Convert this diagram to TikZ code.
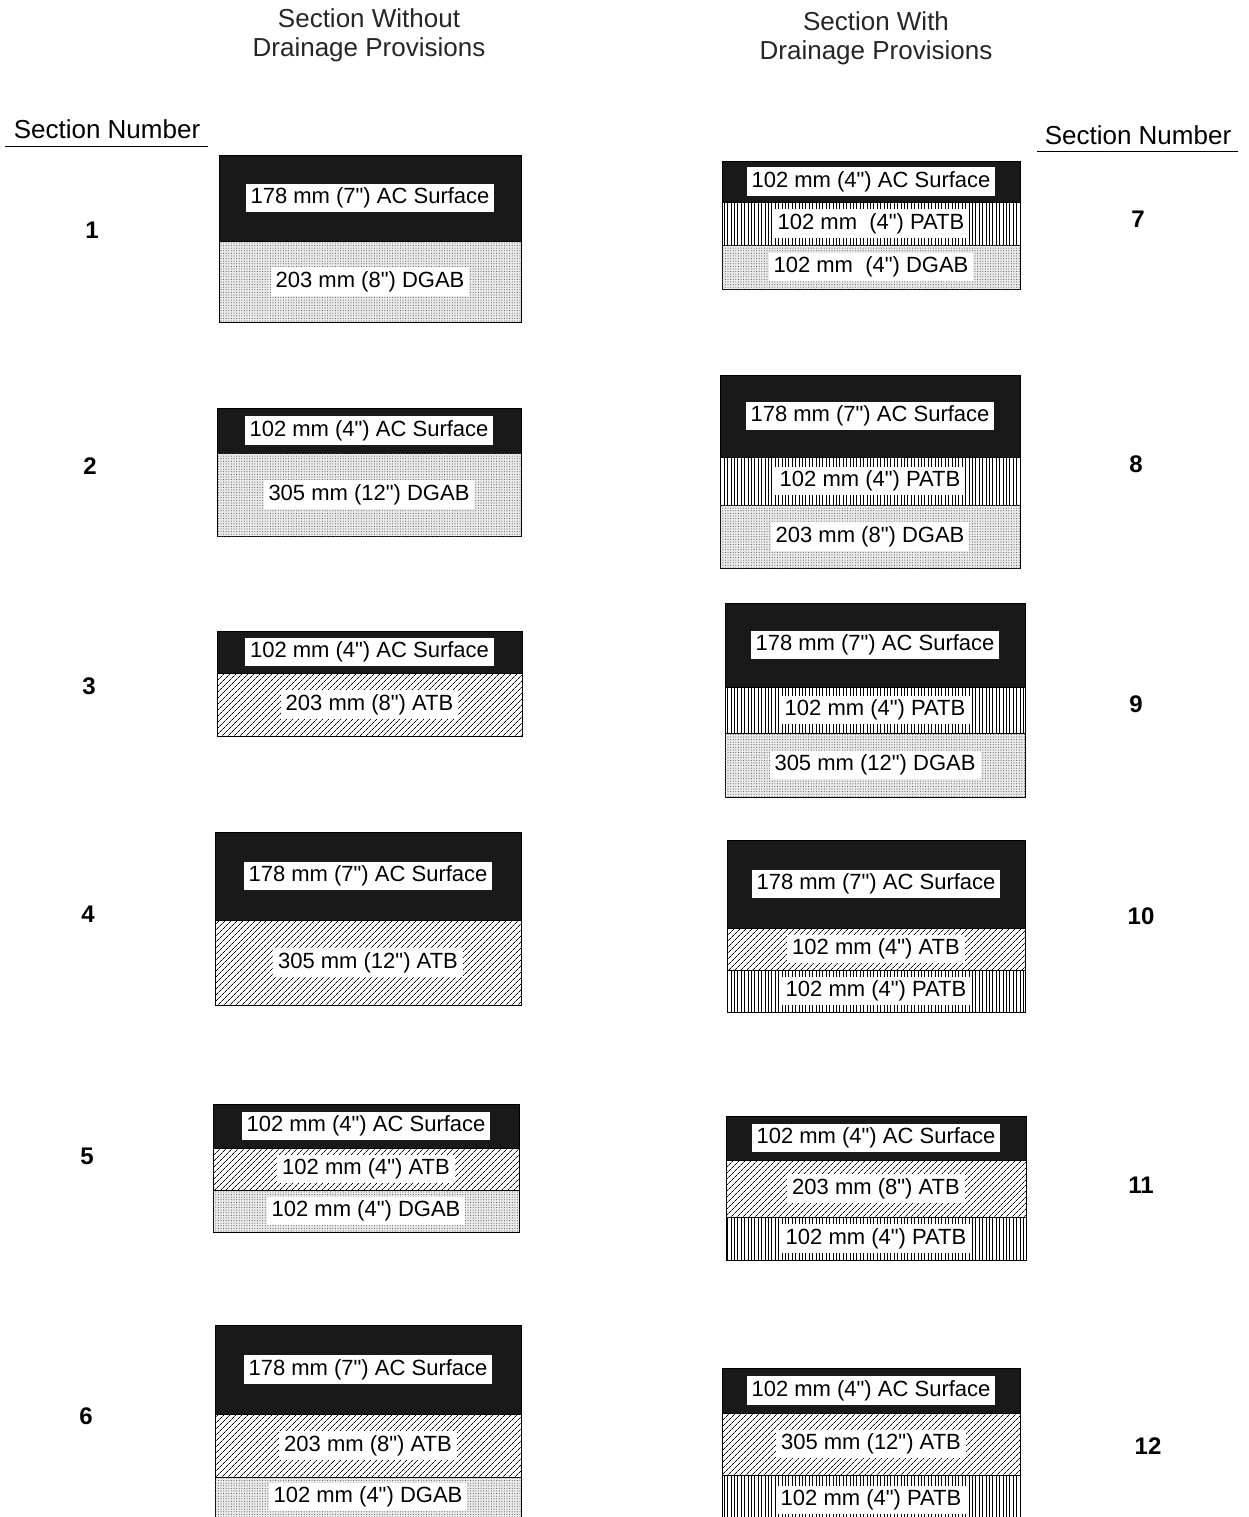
\documentclass[tikz,border=0pt]{standalone}
\usepackage{fontspec}
\setmainfont{Liberation Sans}[Ligatures=TeXOff]
\usetikzlibrary{patterns.meta}
\tikzset{
  lbl/.style={fill=white, inner xsep=5pt, inner ysep=4pt, font=\fontsize{22}{24}\selectfont},
  ac/.style={fill=black!90, draw=black, line width=0.8pt},
  dgab/.style={fill=black!8, draw=black, line width=0.8pt,
     postaction={pattern={Dots[radius=0.55pt,distance=2.6pt]}, pattern color=black!65}},
  atb/.style={fill=white, draw=black, line width=0.8pt,
     postaction={pattern={Lines[angle=45,distance=4pt,line width=0.7pt]}, pattern color=black}},
  patb/.style={fill=white, draw=black, line width=0.8pt,
     postaction={pattern={Lines[angle=90,distance=3.4pt,line width=0.7pt]}, pattern color=black}},
  num/.style={font=\fontsize{24}{26}\selectfont\bfseries},
  head/.style={font=\fontsize{26}{29}\selectfont, align=center, text=black!85},
}
\newcommand\layer[7]{%
  \path[#6] (#2,#3) rectangle (#4,#5);
  \node[lbl] (#1) at ({(#2+#4)/2},{(#3+#5)/2}) {#7};}
\begin{document}
\begin{tikzpicture}[x=1pt,y=-1pt]
\useasboundingbox[fill=white] (0,0) rectangle (1248,1517);

% headers
\node[head] (hL) at (369,35) {Section Without\\Drainage Provisions};
\node[head] (hR) at (876,38) {Section With\\Drainage Provisions};
\node[head, text=black] (snL) at (107,129) {Section Number};
\node[head, text=black] (snR) at (1138,135) {Section Number};
\draw[line width=1pt] (5,147) -- (208,147);
\draw[line width=1pt] (1037,152) -- (1238,152);

% left column
\layer{s1a}{219}{155}{521}{241}{ac}{178 mm (7") AC Surface}
\layer{s1b}{219}{241}{521}{322}{dgab}{203 mm (8") DGAB}

\layer{s2a}{217}{408}{521}{453}{ac}{102 mm (4") AC Surface}
\layer{s2b}{217}{453}{521}{536}{dgab}{305 mm (12") DGAB}

\layer{s3a}{217}{631}{522}{673}{ac}{102 mm (4") AC Surface}
\layer{s3b}{217}{673}{522}{736}{atb}{203 mm (8") ATB}

\layer{s4a}{215}{832}{521}{920}{ac}{178 mm (7") AC Surface}
\layer{s4b}{215}{920}{521}{1005}{atb}{305 mm (12") ATB}

\layer{s5a}{213}{1104}{519}{1148}{ac}{102 mm (4") AC Surface}
\layer{s5b}{213}{1148}{519}{1190}{atb}{102 mm (4") ATB}
\layer{s5c}{213}{1190}{519}{1232}{dgab}{102 mm (4") DGAB}

\layer{s6a}{215}{1325}{521}{1414}{ac}{178 mm (7") AC Surface}
\layer{s6b}{215}{1414}{521}{1477}{atb}{203 mm (8") ATB}
\layer{s6c}{215}{1477}{521}{1517}{dgab}{102 mm (4") DGAB}

% right column
\layer{s7a}{722}{161}{1020}{202}{ac}{102 mm (4") AC Surface}
\layer{s7b}{722}{202}{1020}{245}{patb}{102 mm\ \ (4") PATB}
\layer{s7c}{722}{245}{1020}{289}{dgab}{102 mm\ \ (4") DGAB}

\layer{s8a}{720}{375}{1020}{457}{ac}{178 mm (7") AC Surface}
\layer{s8b}{720}{457}{1020}{505}{patb}{102 mm (4") PATB}
\layer{s8c}{720}{505}{1020}{568}{dgab}{203 mm (8") DGAB}

\layer{s9a}{725}{603}{1025}{687}{ac}{178 mm (7") AC Surface}
\layer{s9b}{725}{687}{1025}{733}{patb}{102 mm (4") PATB}
\layer{s9c}{725}{733}{1025}{797}{dgab}{305 mm (12") DGAB}

\layer{s10a}{727}{840}{1025}{928}{ac}{178 mm (7") AC Surface}
\layer{s10b}{727}{928}{1025}{970}{atb}{102 mm (4") ATB}
\layer{s10c}{727}{970}{1025}{1012}{patb}{102 mm (4") PATB}

\layer{s11a}{726}{1116}{1026}{1160}{ac}{102 mm (4") AC Surface}
\layer{s11b}{726}{1160}{1026}{1217}{atb}{203 mm (8") ATB}
\layer{s11c}{726}{1217}{1026}{1260}{patb}{102 mm (4") PATB}

\layer{s12a}{722}{1368}{1020}{1413}{ac}{102 mm (4") AC Surface}
\layer{s12b}{722}{1413}{1020}{1475}{atb}{305 mm (12") ATB}
\layer{s12c}{722}{1475}{1020}{1525}{patb}{102 mm (4") PATB}

% section numbers
\node[num] (n1) at (92,230) {1};
\node[num] (n2) at (90,466) {2};
\node[num] (n3) at (89,686) {3};
\node[num] (n4) at (88,914) {4};
\node[num] (n5) at (87,1156) {5};
\node[num] (n6) at (86,1416) {6};
\node[num] (n7) at (1138,219) {7};
\node[num] (n8) at (1136,464) {8};
\node[num] (n9) at (1136,704) {9};
\node[num] (n10) at (1141,916) {10};
\node[num] (n11) at (1141,1185) {11};
\node[num] (n12) at (1148,1446) {12};
\end{tikzpicture}
\end{document}
